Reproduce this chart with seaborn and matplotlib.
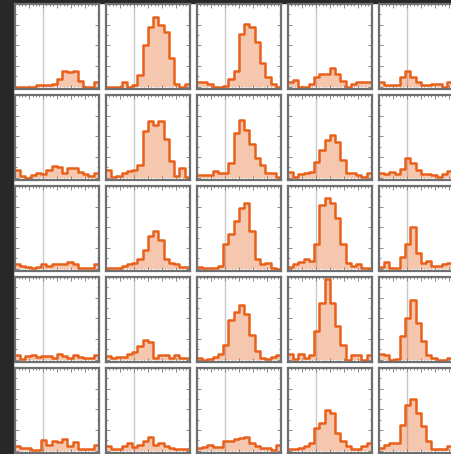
import numpy as np
import pandas as pd
import matplotlib
matplotlib.use("Agg")
import matplotlib.pyplot as plt
from matplotlib.patches import Rectangle
from matplotlib.ticker import MultipleLocator
import seaborn as sns

# bin heights for each panel (0-100 scale), one list of 5 panels per row
row0 = [
    [0, 0, 0, 0, 2, 2, 2, 3, 9, 19, 17, 19, 7, 0, 0, 5],
    [0, 0, 0, 5, 0, 2, 14, 50, 72, 84, 74, 66, 35, 3, 0, 3],
    [5, 5, 3, 0, 0, 1, 9, 19, 64, 76, 72, 54, 29, 12, 3, 0],
    [5, 8, 0, 0, 3, 11, 15, 15, 22, 15, 7, 0, 3, 6, 6, 6],
    [5, 2, 2, 2, 12, 19, 12, 5, 2, 2, 3, 3, 0, 5, 2, 0],
]
row1 = [
    [9, 2, 0, 3, 6, 4, 9, 14, 13, 5, 11, 12, 7, 4, 2, 5],
    [9, 1, 2, 5, 8, 9, 15, 56, 68, 64, 68, 47, 20, 2, 11, 1],
    [3, 3, 3, 8, 6, 6, 18, 54, 70, 58, 41, 24, 15, 6, 6, 1],
    [7, 1, 4, 5, 7, 19, 33, 45, 52, 43, 21, 5, 5, 3, 1, 5],
    [6, 4, 7, 4, 10, 24, 17, 9, 4, 4, 3, 1, 4, 8, 6, 3],
]
row2 = [
    [5, 3, 2, 1, 2, 5, 3, 5, 5, 6, 8, 5, 1, 1, 1, 6],
    [1, 1, 1, 3, 6, 7, 12, 22, 40, 45, 34, 11, 7, 5, 2, 2],
    [2, 1, 1, 1, 3, 30, 42, 57, 73, 79, 45, 12, 6, 7, 1, 0],
    [2, 5, 8, 11, 9, 30, 77, 85, 80, 61, 30, 7, 3, 5, 1, 1],
    [2, 8, 1, 1, 14, 30, 50, 19, 7, 9, 3, 3, 5, 7, 8, 5],
]
row3 = [
    [5, 1, 4, 5, 3, 4, 4, 2, 7, 4, 2, 5, 3, 2, 2, 5],
    [4, 2, 3, 3, 7, 9, 16, 24, 21, 2, 5, 5, 2, 5, 2, 2],
    [2, 0, 1, 3, 7, 18, 48, 57, 66, 55, 30, 10, 2, 1, 3, 5],
    [7, 1, 7, 2, 6, 35, 69, 97, 69, 41, 18, 0, 5, 5, 0, 6],
    [7, 6, 0, 1, 29, 50, 72, 44, 22, 6, 2, 0, 0, 2, 1, 0],
]
row4 = [
    [5, 3, 3, 1, 1, 13, 7, 12, 10, 14, 5, 10, 2, 2, 2, 7],
    [5, 2, 2, 5, 9, 4, 7, 11, 16, 7, 9, 5, 3, 2, 2, 2],
    [3, 4, 7, 4, 4, 12, 12, 14, 15, 16, 9, 6, 3, 3, 1, 7],
    [2, 2, 3, 5, 9, 27, 33, 49, 45, 21, 11, 6, 2, 2, 5, 9],
    [3, 7, 9, 9, 31, 55, 63, 45, 30, 11, 2, 2, 2, 6, 4, 2],
]
rows = [row0, row1, row2, row3, row4]

x_min, x_max = -1.0, 2.0
true_value = 0.0
n_bins = 16

orange = "#e8601a"
frame_gray = "#6f6f6f"

sns.set_style("white")
plt.rcParams["font.family"] = ["DejaVu Sans"]

W, H = 452, 454
fig = plt.figure(figsize=(W / 100, H / 100), dpi=100, facecolor="white")

# dark strips at the left and top edge of the crop
fig.patches.append(Rectangle((0, 0), 13 / W, 1, transform=fig.transFigure,
                             color="#282828", zorder=-1))
fig.patches.append(Rectangle((0, 1 - 3 / H), 1, 3 / H, transform=fig.transFigure,
                             color="#282828", zorder=-1))

bw = (x_max - x_min) / n_bins
centers = x_min + bw * (np.arange(n_bins) + 0.5)

pw, ph = 84, 85
for i, row in enumerate(rows):
    for j, heights in enumerate(row):
        df = pd.DataFrame({"value": centers, "count": heights})
        left = 15 + 91 * j
        top = 4 + 91 * i
        ax = fig.add_axes([left / W, 1 - (top + ph) / H, pw / W, ph / H])
        ax.axvline(true_value, color="#c9c9c9", lw=1.0, zorder=0)
        sns.histplot(data=df, x="value", weights="count", binwidth=bw,
                     binrange=(x_min, x_max), element="step", fill=True,
                     color=orange, alpha=0.35, linewidth=0, ax=ax)
        sns.histplot(data=df, x="value", weights="count", binwidth=bw,
                     binrange=(x_min, x_max), element="step", fill=False,
                     color=orange, linewidth=1.8, ax=ax)
        ax.set_xlim(x_min, x_max)
        ax.set_ylim(-3, 100)
        ax.set_xlabel("")
        ax.set_ylabel("")
        ax.xaxis.set_major_locator(MultipleLocator(0.5))
        ax.xaxis.set_minor_locator(MultipleLocator(0.125))
        ax.yaxis.set_major_locator(MultipleLocator(25))
        ax.yaxis.set_minor_locator(MultipleLocator(12.5))
        ax.tick_params(which="both", direction="in", top=True, right=True,
                       bottom=True, left=True, labelbottom=False,
                       labelleft=False, color="#8a8a8a", width=0.7)
        ax.tick_params(which="major", length=3)
        ax.tick_params(which="minor", length=1.6)
        for s in ax.spines.values():
            s.set_color(frame_gray)
            s.set_linewidth(1.6)

fig.savefig("out.png", dpi=100, facecolor=fig.get_facecolor())
